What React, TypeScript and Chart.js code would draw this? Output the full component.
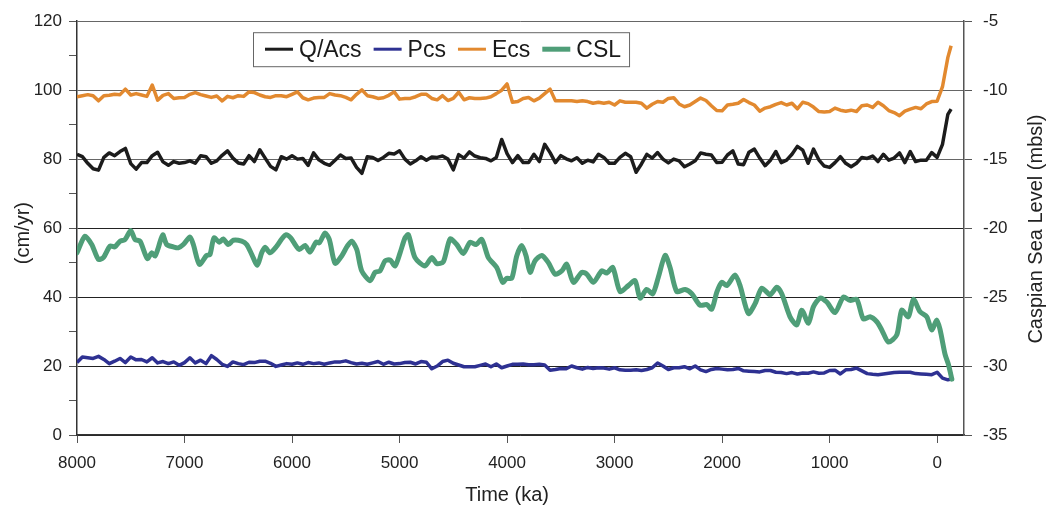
import { useEffect, useRef } from "react";
import { Chart, registerables } from "chart.js";

Chart.register(...registerables);

const FONT = "'Liberation Sans', Arial, Helvetica, sans-serif";

// time grid (years before present) for the noisy series
const times = [
  8000, 7950, 7900, 7850, 7800, 7750, 7700, 7650, 7600, 7550, 7500, 7450, 7400, 7350, 7300, 7250, 7200, 7150, 7100, 7050,
  7000, 6950, 6900, 6850, 6800, 6750, 6700, 6650, 6600, 6550, 6500, 6450, 6400, 6350, 6300, 6250, 6200, 6150, 6100, 6050,
  6000, 5950, 5900, 5850, 5800, 5750, 5700, 5650, 5600, 5550, 5500, 5450, 5400, 5350, 5300, 5250, 5200, 5150, 5100, 5050,
  5000, 4950, 4900, 4850, 4800, 4750, 4700, 4650, 4600, 4550, 4500, 4450, 4400, 4350, 4300, 4250, 4200, 4150, 4100, 4050,
  4000, 3950, 3900, 3850, 3800, 3750, 3700, 3650, 3600, 3550, 3500, 3450, 3400, 3350, 3300, 3250, 3200, 3150, 3100, 3050,
  3000, 2950, 2900, 2850, 2800, 2750, 2700, 2650, 2600, 2550, 2500, 2450, 2400, 2350, 2300, 2250, 2200, 2150, 2100, 2050,
  2000, 1950, 1900, 1850, 1800, 1750, 1700, 1650, 1600, 1550, 1500, 1450, 1400, 1350, 1300, 1250, 1200, 1150, 1100, 1050,
  1000, 950, 900, 850, 800, 750, 700, 650, 600, 550, 500, 450, 400, 350, 300, 250, 200, 150, 100, 50,
  0, -50, -100, -130,
];

const qAcs = [
  81.4, 80.7, 78.8, 77.2, 76.8, 80.5, 81.8, 81.0, 82.2, 83.1, 78.7, 77.1, 79.0, 79.0, 81.0, 82.0, 79.2, 78.2, 79.3, 78.8,
  79.0, 79.5, 78.8, 81.0, 80.7, 78.8, 79.5, 81.1, 82.4, 80.3, 78.9, 78.6, 81.0, 79.3, 82.7, 80.3, 77.9, 76.9, 80.7, 80.0,
  81.0, 80.0, 80.2, 78.2, 81.8, 79.8, 78.8, 78.2, 79.7, 81.2, 80.2, 80.3, 77.6, 75.9, 80.7, 80.5, 79.6, 80.5, 81.7, 81.5,
  82.4, 80.0, 78.6,
  79.5, 80.7, 79.7, 80.6, 80.5, 80.9, 80.0, 76.9, 81.3, 80.3, 82.1, 80.9, 80.4, 80.2, 79.5, 80.5, 85.7, 81.6, 79.0, 81.0,
  79.0, 79.0, 81.4, 79.3, 84.3, 81.9, 79.0, 81.0, 80.1, 79.5, 80.4, 78.8, 79.7, 79.2, 81.4, 80.5, 78.8, 78.8, 80.5, 81.7,
  80.7, 76.2, 78.6, 81.4, 80.3, 81.9, 80.0, 78.9, 80.0, 79.5, 77.8, 78.6, 79.5, 81.8,
  81.4, 81.2, 79.0, 79.1, 81.2, 82.4, 78.6, 78.4, 82.0, 82.9, 80.3, 78.1, 79.7, 82.2, 79.0, 79.7, 81.4, 83.7, 82.6, 78.8,
  82.9, 79.8, 78.0, 77.6, 79.0, 80.7, 78.8, 77.8, 78.8, 80.5, 80.2, 80.9, 79.3, 81.4, 79.7, 80.3, 81.8, 79.0, 82.2, 79.3,
  79.7, 79.7, 81.9, 80.5, 84.3, 93.0, 94.5,
];

const pcs = [
  21.0, 22.6, 22.4, 22.2, 22.8, 21.9, 20.7, 21.4, 22.2, 21.0, 22.6, 21.8, 21.9, 21.2, 22.4, 20.9, 21.3, 20.7, 21.2, 20.2,
  21.0, 22.4, 20.9, 21.7, 20.7, 23.0, 21.9, 20.5, 19.9, 21.2, 20.7, 20.4, 21.1, 21.0, 21.4, 21.4, 20.8, 19.9, 20.3, 20.7,
  20.5, 20.9, 20.5, 21.0, 20.7, 20.9, 20.5, 20.9, 21.2, 21.2, 21.5, 21.0, 20.6, 20.8, 20.5, 20.9, 21.3, 20.5, 21.1, 20.6,
  20.7, 21.0, 21.1,
  20.6, 21.3, 21.1, 19.2, 20.0, 21.3, 21.7, 20.8, 20.3, 19.8, 19.8, 19.8, 20.2, 20.6, 19.8, 20.6, 19.5, 20.0, 20.5, 20.5,
  20.6, 20.4, 20.4, 20.5, 20.3, 18.8, 19.0, 19.3, 19.2, 20.0, 19.5, 19.1, 19.6, 19.3, 19.5, 19.4, 19.1, 19.5, 18.9, 18.8,
  18.8, 18.9, 18.7, 19.0, 19.5, 20.9, 20.0, 19.0, 19.5, 19.5, 19.8, 19.2, 20.0, 18.9,
  18.4, 19.0, 19.3, 19.1, 18.9, 19.0, 19.3, 18.6, 18.5, 18.4, 18.3, 18.7, 18.7, 18.2, 18.1, 17.8, 18.1, 17.7, 18.0, 17.9,
  18.3, 17.9, 18.0, 18.7, 18.8, 17.7, 18.9, 19.0, 19.4, 18.6, 17.8, 17.6, 17.5, 17.7, 17.9, 18.1, 18.2, 18.2, 18.2, 17.8,
  17.7, 17.6, 17.5, 18.2, 16.5, 16.0, 16.2,
];

const ecs = [
  98.1, 98.4, 98.7, 98.4, 96.9, 98.4, 98.5, 98.8, 98.7, 100.3, 98.6, 99.0, 98.6, 98.2, 101.5, 97.1, 98.5, 99.0, 97.6, 97.8,
  97.9, 98.8, 99.3, 98.7, 98.3, 97.9, 98.3, 96.9, 98.2, 97.8, 98.4, 98.2, 99.5, 99.3, 98.6, 98.1, 97.9, 98.4, 98.4, 98.1,
  98.8, 99.5, 97.8, 97.2, 97.7, 97.9, 97.9, 99.0, 98.6, 98.4, 97.9, 97.2, 98.8, 100.1, 98.4, 98.1, 97.6, 97.8, 98.5, 99.5,
  97.4, 97.6, 97.6,
  98.1, 98.8, 98.8, 97.6, 97.2, 98.4, 97.0, 97.6, 99.4, 97.2, 97.8, 97.6, 97.6, 97.7, 98.1, 99.0, 100.0, 101.8, 96.5, 96.7,
  97.6, 97.9, 96.9, 97.7, 99.0, 100.3, 96.9, 96.9, 96.9, 96.9, 96.7, 96.9, 96.7, 96.2, 96.5, 96.2, 96.5, 95.7, 96.9, 96.5,
  96.5, 96.5, 96.2, 94.8, 95.9, 96.7, 96.5, 97.6, 97.8, 96.0, 95.2, 95.7, 96.7, 97.7,
  97.0, 95.5, 94.1, 94.0, 95.7, 95.9, 96.2, 97.3, 96.4, 95.7, 93.9, 94.8, 95.2, 95.9, 96.4, 95.7, 96.2, 94.6, 96.5, 96.1,
  95.1, 93.8, 93.7, 93.8, 94.8, 94.2, 93.9, 94.2, 93.8, 95.5, 95.7, 95.0, 96.5, 95.5, 94.1, 93.5, 92.6, 93.9, 94.5, 95.0,
  94.6, 96.0, 96.7, 96.8, 101.0, 109.5, 112.9,
];

// Caspian Sea Level (m below sea level)
const cslTimes = [
  8000, 7926, 7863, 7802, 7755, 7693, 7647, 7600, 7553, 7500,
  7460, 7414, 7346, 7305, 7274, 7244, 7203, 7166, 7104, 7058,
  7011, 6949, 6918, 6862, 6794, 6763, 6726, 6676, 6639, 6593,
  6546, 6468, 6422, 6375, 6323, 6282, 6251, 6205, 6142, 6096,
  6056, 6012, 5972, 5932, 5879, 5833, 5777, 5746, 5693, 5653,
  5600, 5538, 5486, 5445, 5398, 5352, 5274, 5228, 5181, 5135,
  5088, 5042, 4995, 4949, 4918, 4856, 4763, 4701, 4654, 4593,
  4530, 4468, 4407, 4344, 4289, 4235, 4174, 4096, 4040, 4003,
  3956, 3910, 3863, 3823, 3786, 3740, 3677, 3616, 3554, 3491,
  3445, 3383, 3305, 3259, 3197, 3119, 3073, 3017, 2949, 2872,
  2809, 2763, 2701, 2645, 2593, 2530, 2484, 2422,
  2344, 2282, 2205, 2142, 2096, 2049, 2003, 1956, 1879, 1833,
  1756, 1693, 1631, 1554, 1491, 1445, 1368, 1305, 1259, 1197,
  1151, 1088, 1026, 949, 872, 810, 747, 686, 624, 561,
  515, 453, 375, 329, 267, 221, 158, 96, 50, 3,
  -28, -74, -105, -137,
];

const cslLevels = [
  -21.79, -20.59, -21.19, -22.26, -22.14, -21.31, -21.36, -20.95, -20.83, -20.17,
  -20.83, -20.95, -22.21, -21.79, -22.02, -21.43, -20.48, -21.19, -21.36, -21.43,
  -21.19, -20.64, -21.19, -22.62, -21.98, -21.91, -20.71, -21.02, -20.79, -21.19,
  -20.88, -20.95, -21.19, -21.9, -22.69, -21.79, -21.38, -21.79, -21.31, -20.79,
  -20.48, -20.71, -21.19, -21.55, -21.26, -21.74, -21.02, -21.07, -20.36, -20.83,
  -22.55, -22.02, -21.31, -20.95, -21.55, -23.1, -23.81, -23.21, -23.1, -22.38,
  -22.31, -22.74, -21.79, -20.71, -20.48, -22.14, -22.74, -22.14, -22.57, -22.45,
  -20.79, -21.19, -21.84, -21.02, -21.19, -20.83, -22.14, -22.86, -23.93, -23.64,
  -23.64, -22.02, -21.26, -22.02, -23.21, -22.38, -21.98, -22.5, -23.33, -23.1,
  -22.62, -23.93, -23.21, -23.33, -23.93, -23.1, -23.26, -22.86, -24.6, -24.17,
  -23.81, -25.07, -24.45, -24.76, -23.57, -21.98, -22.86, -24.6,
  -24.45, -24.76, -25.59, -25.55, -25.88, -24.64, -23.93, -24.17, -23.4, -24.17,
  -26.19, -25.48, -24.36, -24.83, -24.29, -24.76, -26.43, -27.02, -25.95, -26.9,
  -25.71, -25.07, -25.36, -26.12, -25.0, -25.24, -25.17, -26.59, -26.43, -26.79,
  -27.38, -28.26, -27.74, -25.95, -26.43, -25.16, -26.07, -26.43, -27.38, -26.66,
  -27.38, -29.16, -29.88, -30.95,
];

const xTickValues = [8000, 7000, 6000, 5000, 4000, 3000, 2000, 1000, 0];
const legendLabels = ["Q/Acs", "Pcs", "Ecs", "CSL"];
const seriesColors = ["#1c1c1c", "#2e3192", "#e2892f", "#4f9e78"];
const seriesWidths = [3.5, 3.5, 3.5, 5];
const xTitle = "Time (ka)";
const yTitle = "(cm/yr)";
const y2Title = "Caspian Sea Level (mbsl)";

const overlayPlugin = {
  id: "overlay",
  afterDraw(chart: any) {
    const ctx = chart.ctx as CanvasRenderingContext2D;
    const area = chart.chartArea;
    const xs = chart.scales.x;
    ctx.save();
    ctx.fillStyle = "#222";
    ctx.font = `20px ${FONT}`;
    ctx.textAlign = "center";
    ctx.textBaseline = "middle";
    const xc = (xs.getPixelForValue(8000) + xs.getPixelForValue(0)) / 2;
    ctx.fillText(xTitle, xc, chart.height - 15);
    const yc = (area.top + area.bottom) / 2;
    ctx.save();
    ctx.translate(23, yc + 5);
    ctx.rotate(-Math.PI / 2);
    ctx.fillText(yTitle, 0, 0);
    ctx.restore();
    ctx.save();
    ctx.translate(chart.width - 16, yc + 1);
    ctx.rotate(-Math.PI / 2);
    ctx.fillText(y2Title, 0, 0);
    ctx.restore();

    // legend box
    ctx.font = `23px ${FONT}`;
    const lineLen = 28;
    const gap = 6;
    const spacing = 12;
    const boxLeft = area.left + 176;
    const boxTop = area.top + 11;
    const boxH = 34;
    const cy = boxTop + boxH / 2;
    let x = boxLeft + 12;
    const items: { x: number; w: number }[] = [];
    legendLabels.forEach((lab) => {
      const w = ctx.measureText(lab).width;
      items.push({ x, w });
      x += lineLen + gap + w + spacing;
    });
    const boxRight = x - spacing + 8;
    ctx.fillStyle = "#fff";
    ctx.fillRect(boxLeft, boxTop, boxRight - boxLeft, boxH);
    ctx.strokeStyle = "#666";
    ctx.lineWidth = 1;
    ctx.strokeRect(boxLeft + 0.5, boxTop + 0.5, boxRight - boxLeft, boxH);
    legendLabels.forEach((lab, i) => {
      const it = items[i];
      ctx.strokeStyle = seriesColors[i];
      ctx.lineWidth = i === 3 ? 5 : 3;
      ctx.beginPath();
      ctx.moveTo(it.x, cy);
      ctx.lineTo(it.x + lineLen, cy);
      ctx.stroke();
      ctx.fillStyle = "#1a1a1a";
      ctx.textAlign = "left";
      ctx.fillText(lab, it.x + lineLen + gap, cy + 1);
    });
    ctx.restore();
  },
};

export default function App() {
  const ref = useRef<HTMLCanvasElement | null>(null);
  useEffect(() => {
    if (!ref.current) return;
    Chart.defaults.font.family = FONT;
    const mk = (vals: number[]) => times.map((t, i) => ({ x: t, y: vals[i] }));
    const chart = new Chart(ref.current, {
      type: "line",
      data: {
        datasets: [
          { label: legendLabels[0], data: mk(qAcs), borderColor: seriesColors[0], borderWidth: seriesWidths[0], pointRadius: 0, tension: 0, yAxisID: "y", order: 2, borderJoinStyle: "round" },
          { label: legendLabels[1], data: mk(pcs), borderColor: seriesColors[1], borderWidth: seriesWidths[1], pointRadius: 0, tension: 0, yAxisID: "y", order: 3, borderJoinStyle: "round" },
          { label: legendLabels[2], data: mk(ecs), borderColor: seriesColors[2], borderWidth: seriesWidths[2], pointRadius: 0, tension: 0, yAxisID: "y", order: 4, borderJoinStyle: "round" },
          { label: legendLabels[3], data: cslTimes.map((t, i) => ({ x: t, y: cslLevels[i] })), borderColor: seriesColors[3], borderWidth: seriesWidths[3], pointRadius: 0, tension: 0.25, yAxisID: "y2", order: 1, borderJoinStyle: "round", borderCapStyle: "round" },
        ],
      } as any,
      options: {
        responsive: false,
        maintainAspectRatio: false,
        animation: false,
        layout: { padding: { top: 15, left: 0, right: 0, bottom: 0 } },
        plugins: { legend: { display: false }, tooltip: { enabled: false } },
        scales: {
          x: {
            type: "linear",
            reverse: true,
            min: -250,
            max: 8000,
            afterBuildTicks: (s: any) => {
              s.ticks = xTickValues.map((v) => ({ value: v }));
            },
            afterFit: (s: any) => {
              s.height = 75;
            },
            grid: { drawOnChartArea: false, drawTicks: true, tickLength: 8, tickColor: "#555" },
            border: { display: true, color: "#333", width: 1.5 },
            ticks: { color: "#222", font: { size: 17, family: FONT }, padding: 10, maxRotation: 0, autoSkip: false, callback: (v: any) => String(v) },
          },
          y: {
            position: "left",
            min: 0,
            max: 120,
            afterFit: (s: any) => {
              s.width = 77;
            },
            grid: {
              color: (c: any) => {
                const v = c.tick ? c.tick.value : 0;
                if (v % 20 !== 0) return "rgba(0,0,0,0)";
                return v >= 80 ? "#666" : "#222";
              },
              tickColor: "#555",
              tickLength: 8,
              lineWidth: 1,
            },
            border: { display: true, color: "#333", width: 1.5 },
            ticks: { stepSize: 10, color: "#222", font: { size: 17, family: FONT }, padding: 7, callback: (v: any) => (Number(v) % 20 === 0 ? String(v) : "") },
          },
          y2: {
            position: "right",
            min: -35,
            max: -5,
            afterFit: (s: any) => {
              s.width = 88;
            },
            grid: { drawOnChartArea: false, tickColor: "#555", tickLength: 8 },
            border: { display: true, color: "#555", width: 1.5 },
            ticks: { stepSize: 5, color: "#222", font: { size: 17, family: FONT }, padding: 11, callback: (v: any) => String(v) },
          },
        },
      } as any,
      plugins: [overlayPlugin],
    });
    return () => chart.destroy();
  }, []);
  return (
    <div style={{ position: "absolute", left: 0, top: 0, width: 1052, height: 510, background: "#fff" }}>
      <canvas ref={ref} width={1052} height={510} style={{ width: 1052, height: 510, display: "block" }} />
    </div>
  );
}
